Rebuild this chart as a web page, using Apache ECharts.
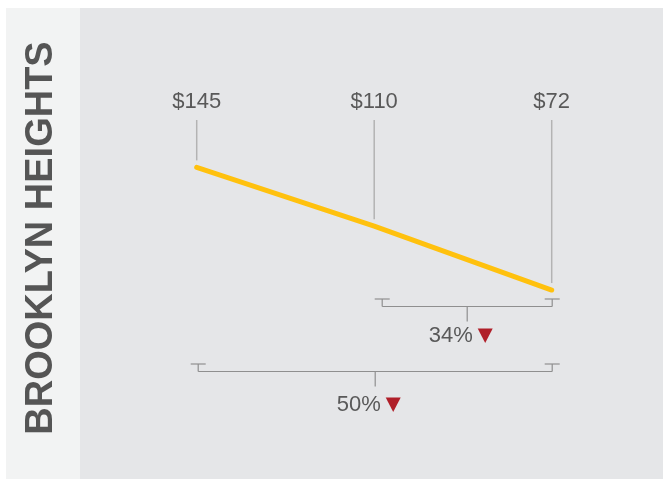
<!DOCTYPE html>
<html>
<head>
<meta charset="utf-8">
<script src="https://cdn.jsdelivr.net/npm/echarts@6/dist/echarts.min.js"></script>
<style>
  html, body { margin: 0; padding: 0; background: #ffffff; }
  #chart { width: 663px; height: 479px; }
</style>
</head>
<body>
<div id="chart"></div>
<script>
// Average price by period, Brooklyn Heights
const neighborhood = 'BROOKLYN HEIGHTS';
const periods = ['P1', 'P2', 'P3'];
const prices = [145, 110, 72];
const priceLabels = ['$145', '$110', '$72'];

// Declines shown underneath: [from period index, to period index]
const declineSpans = [[1, 2], [0, 2]];
const declineLabels = ['34%', '50%'];

// Look of the annotations
const FONT = '"Liberation Sans", Arial, sans-serif';
const TEXT_COLOR = '#595959';
const LEADER_TOP = 120;
const LABEL_Y = 101.5;
const bracketStyle = [
  { capY: 299, insetLeft: 8, labelGap: 29.5 },
  { capY: 364, insetLeft: 1.5, labelGap: 33.5 }
];

const chart = echarts.init(document.getElementById('chart'), null, { renderer: 'canvas' });

function renderLeader(params, api) {
  const i = params.dataIndex;
  const p = api.coord([api.value(0), api.value(1)]);
  return {
    type: 'group',
    children: [
      {
        type: 'line',
        shape: { x1: p[0], y1: LEADER_TOP, x2: p[0], y2: p[1] - 7 },
        style: { stroke: '#b3b3b3', lineWidth: 1.5 }
      },
      {
        type: 'text',
        style: {
          text: priceLabels[i], x: p[0], y: LABEL_Y,
          align: 'center', verticalAlign: 'middle',
          font: '22px ' + FONT, fill: TEXT_COLOR
        }
      }
    ]
  };
}

function renderBracket(params, api) {
  const i = params.dataIndex;
  const s = bracketStyle[i];
  const span = declineSpans[i];
  const xl = api.coord([span[0], prices[span[0]]])[0] + s.insetLeft;
  const xr = api.coord([span[1], prices[span[1]]])[0] + 0.5;
  const capY = s.capY;
  const barY = capY + 7.5;
  const cx = (xl + xr) / 2;
  const ls = { stroke: '#8f8f8f', lineWidth: 1.2 };
  const seg = (x1, y1, x2, y2) => ({ type: 'line', shape: { x1, y1, x2, y2 }, style: ls });
  const ly = barY + s.labelGap;
  return {
    type: 'group',
    children: [
      seg(xl - 7.5, capY, xl + 7.5, capY),
      seg(xl, capY, xl, barY),
      seg(xl, barY, xr, barY),
      seg(xr - 7.5, capY, xr + 7.5, capY),
      seg(xr, capY, xr, barY),
      seg(cx, barY, cx, barY + 15),
      {
        type: 'text',
        style: {
          text: declineLabels[i], x: cx + 5.5, y: ly,
          align: 'right', verticalAlign: 'middle',
          font: '22px ' + FONT, fill: TEXT_COLOR
        }
      },
      {
        type: 'polygon',
        shape: { points: [[cx + 10.5, ly - 7.5], [cx + 25.5, ly - 7.5], [cx + 18, ly + 7]] },
        style: { fill: '#b01f29' }
      }
    ]
  };
}

chart.setOption({
  animation: false,
  backgroundColor: '#ffffff',
  graphic: [
    { type: 'rect', shape: { x: 80, y: 8, width: 583, height: 471 }, style: { fill: '#e5e6e8' }, z: -10 },
    { type: 'rect', shape: { x: 6, y: 8, width: 74, height: 471 }, style: { fill: '#f2f3f3' }, z: -10 },
    {
      type: 'text', x: 41.5, y: 238, rotation: Math.PI / 2,
      style: {
        text: neighborhood, x: 0, y: 0, align: 'center', verticalAlign: 'middle',
        font: 'bold 38px ' + FONT, fill: '#555555'
      }
    }
  ],
  grid: { left: 196.7, right: 111.3, top: 75, bottom: 68 },
  xAxis: { type: 'category', data: periods, boundaryGap: false, show: false },
  yAxis: { type: 'value', min: 0, max: 200, show: false },
  series: [
    {
      type: 'line',
      data: prices,
      symbol: 'none',
      lineStyle: { color: '#ffc10e', width: 5, cap: 'round' },
      z: 3
    },
    {
      type: 'custom',
      renderItem: renderLeader,
      data: prices.map((v, i) => [i, v]),
      z: 2
    },
    {
      type: 'custom',
      renderItem: renderBracket,
      data: declineSpans.map(s => [s[0], prices[s[0]]]),
      z: 2
    }
  ]
});
</script>
</body>
</html>
